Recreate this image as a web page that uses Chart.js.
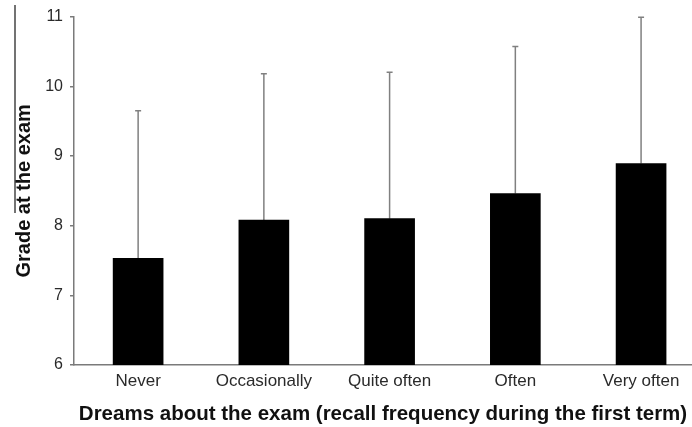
<!DOCTYPE html>
<html>
<head>
<meta charset="utf-8">
<script src="https://cdn.jsdelivr.net/npm/chart.js@4/dist/chart.umd.min.js"></script>
<style>
  html, body { margin: 0; padding: 0; background: #fff; }
  #wrap { width: 692px; height: 427px; position: relative; }
</style>
</head>
<body>
<div id="wrap"><canvas id="c" width="692" height="427"></canvas></div>
<script>
// Recall frequency of exam dreams during the first term
const categories = ['Never', 'Occasionally', 'Quite often', 'Often', 'Very often'];
// Mean grade at the exam and its standard deviation (upper whisker only)
const meanGrade = [7.53, 8.08, 8.10, 8.46, 8.89];
const sdGrade = [2.12, 2.10, 2.10, 2.11, 2.10];
const yTicks = [6, 7, 8, 9, 10, 11];

const AXIS_GREY = '#7a7a7a';
const TEXT = '#2a2a2a';
const FONT = 'Liberation Sans, Arial, Helvetica, sans-serif';

// Upward error whiskers with a short cap
const whiskers = {
  id: 'whiskers',
  beforeDatasetsDraw(chart) {
    const ctx = chart.ctx;
    const y = chart.scales.y;
    const meta = chart.getDatasetMeta(0);
    ctx.save();
    ctx.strokeStyle = '#808080';
    ctx.lineWidth = 1.5;
    meta.data.forEach((bar, i) => {
      const yTop = y.getPixelForValue(meanGrade[i] + sdGrade[i]);
      const yBase = y.getPixelForValue(meanGrade[i]);
      ctx.beginPath();
      ctx.moveTo(bar.x, yBase);
      ctx.lineTo(bar.x, yTop);
      ctx.moveTo(bar.x - 3, yTop);
      ctx.lineTo(bar.x + 3, yTop);
      ctx.stroke();
    });
    ctx.restore();
  }
};

// Overline rule beside the rotated y title
const titleRule = {
  id: 'titleRule',
  afterDraw(chart) {
    const ctx = chart.ctx;
    ctx.save();
    ctx.strokeStyle = '#444';
    ctx.lineWidth = 1.5;
    ctx.beginPath();
    ctx.moveTo(15, 5);
    ctx.lineTo(15, 213);
    ctx.stroke();
    ctx.restore();
  }
};

new Chart(document.getElementById('c'), {
  type: 'bar',
  data: {
    datasets: [{
      data: categories.map((c, i) => ({ x: i, y: meanGrade[i] })),
      backgroundColor: '#000',
      borderWidth: 0,
      barThickness: 50
    }]
  },
  options: {
    responsive: false,
    animation: false,
    layout: { padding: { top: 14, right: 0, left: 0, bottom: 0 } },
    plugins: { legend: { display: false }, tooltip: { enabled: false } },
    scales: {
      x: {
        type: 'linear',
        offset: false,
        min: -0.51,
        max: 4.405,
        afterBuildTicks(scale) {
          scale.ticks = categories.map((c, i) => ({ value: i }));
        },
        afterFit(scale) { scale.height = 62; },
        ticks: {
          callback: v => categories[v] ?? '',
          color: TEXT,
          font: { family: FONT, size: 17 },
          padding: 6,
          maxRotation: 0,
          autoSkip: false
        },
        grid: { drawOnChartArea: false, drawTicks: false },
        border: { display: true, color: AXIS_GREY, width: 1.5 },
        title: {
          display: true,
          text: 'Dreams about the exam (recall frequency during the first term)',
          color: '#111',
          font: { family: FONT, size: 20.5, weight: 'bold' },
          padding: { top: 4, bottom: 0 }
        }
      },
      y: {
        min: 6,
        max: 11,
        afterBuildTicks(scale) {
          scale.ticks = yTicks.map(v => ({ value: v }));
        },
        afterFit(scale) { scale.width = 74; },
        ticks: {
          color: TEXT,
          font: { family: FONT, size: 16 },
          padding: 7
        },
        grid: { drawOnChartArea: false, drawTicks: true, tickLength: 4, color: AXIS_GREY, lineWidth: 1.5 },
        border: { display: true, color: AXIS_GREY, width: 1.5 },
        title: {
          display: true,
          text: 'Grade at the exam',
          color: '#111',
          font: { family: FONT, size: 20, weight: 'bold' },
          padding: { top: 12, bottom: 0 }
        }
      }
    }
  },
  plugins: [whiskers, titleRule]
});
</script>
</body>
</html>
